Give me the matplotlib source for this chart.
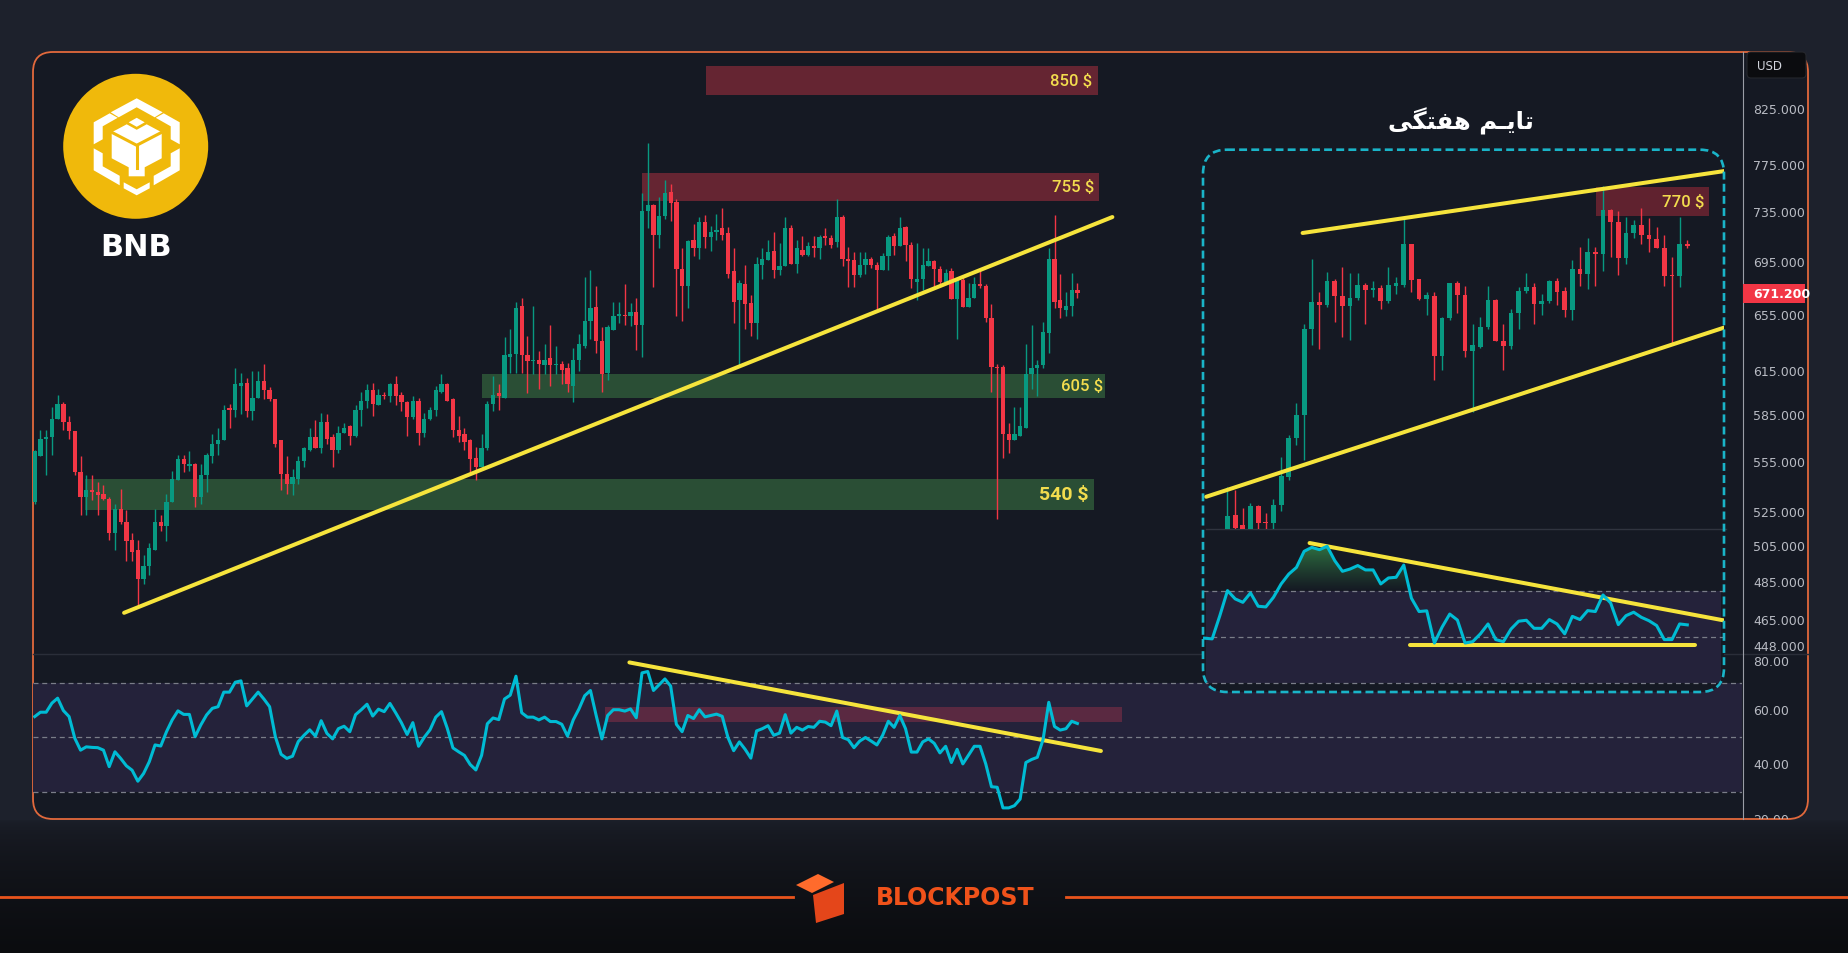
import numpy as np
import matplotlib
matplotlib.use("Agg")
import matplotlib.pyplot as plt
from matplotlib.patches import FancyBboxPatch, Polygon, Circle, Rectangle
from matplotlib.colors import LinearSegmentedColormap, to_rgb
from matplotlib.path import Path

W, H = 1848, 954

# ---------------- daily BNB/USD candles (main chart) ----------------
d_open = [531, 559, 570, 571, 583, 593, 581, 575, 549, 534,
          538, 537, 536, 533, 513, 527, 519, 509, 503, 487,
          494, 503, 519, 517, 531, 544, 557, 553, 554, 534,
          547, 559, 567, 569, 590, 589, 605, 607, 588, 597,
          608, 602, 596, 569, 548, 542, 545, 556, 563, 571,
          564, 581, 571, 563, 574, 578, 572, 589, 595, 602,
          592, 599, 598, 606, 599, 594, 584, 595, 574, 583,
          589, 601, 606, 596, 576, 573, 569, 558, 552, 564,
          593, 600, 597, 625, 627, 662, 626, 622, 623, 619,
          624, 619, 620, 617, 605, 623, 633, 651, 661, 636,
          614, 644, 654, 655, 654, 657, 648, 736, 741, 717,
          732, 752, 744, 690, 677, 713, 706, 727, 715, 719,
          722, 718, 688, 666, 678, 664, 649, 693, 697, 704,
          689, 692, 722, 694, 705, 701, 708, 706, 716, 714,
          711, 731, 698, 697, 685, 693, 698, 693, 689, 700,
          716, 708, 723, 709, 680, 682, 692, 696, 690, 680,
          688, 667, 681, 661, 668, 678, 677, 653, 618, 618,
          573, 569, 572, 577, 613, 617, 619, 642, 698, 666,
          659, 662, 674]
d_high = [563, 576, 576, 591, 599, 594, 585, 575, 559, 547,
          547, 543, 541, 534, 530, 539, 526, 513, 509, 500,
          507, 527, 523, 536, 550, 560, 560, 562, 555, 554,
          561, 573, 577, 592, 593, 617, 614, 610, 615, 615,
          620, 604, 596, 569, 559, 551, 559, 565, 577, 582,
          587, 586, 573, 578, 580, 579, 592, 601, 606, 607,
          603, 601, 607, 612, 601, 595, 598, 597, 587, 591,
          605, 613, 607, 597, 585, 577, 570, 565, 573, 595,
          612, 606, 639, 645, 665, 668, 640, 662, 629, 634,
          648, 633, 622, 621, 631, 641, 684, 689, 677, 646,
          648, 665, 665, 678, 664, 668, 751, 795, 742, 748,
          762, 759, 746, 706, 713, 726, 731, 733, 724, 734,
          739, 723, 706, 681, 693, 670, 699, 706, 713, 719,
          710, 731, 725, 713, 716, 711, 716, 717, 722, 717,
          746, 733, 707, 703, 703, 703, 699, 695, 702, 717,
          718, 731, 724, 711, 710, 706, 706, 697, 692, 690,
          691, 684, 684, 679, 684, 690, 678, 663, 620, 619,
          580, 591, 591, 634, 648, 623, 650, 706, 733, 686,
          672, 687, 679]
d_low = [530, 559, 547, 560, 583, 576, 570, 547, 523, 523,
         532, 523, 532, 509, 503, 518, 497, 497, 472, 484,
         489, 503, 514, 508, 531, 544, 549, 550, 528, 530,
         537, 555, 560, 569, 577, 584, 586, 584, 582, 597,
         596, 595, 565, 538, 536, 535, 542, 552, 562, 564,
         561, 567, 552, 561, 574, 566, 571, 578, 590, 585,
         592, 596, 594, 592, 588, 572, 583, 566, 571, 582,
         585, 600, 595, 571, 568, 563, 548, 544, 552, 563,
         588, 589, 597, 614, 614, 614, 600, 613, 603, 613,
         605, 613, 606, 601, 594, 615, 631, 638, 628, 601,
         609, 644, 649, 648, 647, 630, 625, 722, 676, 706,
         730, 728, 654, 651, 660, 700, 698, 706, 704, 713,
         713, 683, 649, 618, 645, 640, 638, 682, 697, 683,
         685, 692, 694, 687, 700, 700, 699, 698, 709, 706,
         707, 692, 676, 676, 684, 686, 691, 658, 689, 689,
         701, 708, 696, 675, 666, 674, 692, 676, 676, 680,
         667, 638, 661, 661, 668, 675, 650, 601, 521, 558,
         561, 569, 572, 577, 603, 598, 617, 628, 660, 653,
         654, 654, 668]
d_close = [562, 570, 571, 583, 593, 581, 575, 549, 534, 538,
           537, 535, 533, 513, 527, 519, 508, 502, 487, 494,
           504, 519, 517, 531, 545, 557, 554, 554, 534, 547,
           560, 567, 569, 589, 589, 606, 607, 588, 597, 608,
           602, 596, 567, 548, 542, 546, 556, 564, 571, 564,
           581, 570, 563, 574, 577, 572, 589, 595, 602, 593,
           599, 598, 606, 598, 594, 584, 595, 574, 583, 589,
           602, 606, 595, 576, 572, 568, 557, 552, 564, 593,
           599, 598, 626, 627, 660, 626, 622, 623, 620, 623,
           619, 620, 616, 606, 623, 634, 651, 660, 636, 613,
           646, 654, 656, 654, 657, 648, 736, 741, 717, 732,
           751, 743, 690, 677, 712, 706, 727, 715, 719, 721,
           717, 686, 665, 679, 663, 649, 694, 698, 703, 689,
           692, 722, 694, 706, 701, 708, 706, 715, 714, 709,
           731, 698, 696, 685, 693, 698, 693, 689, 700, 715,
           708, 722, 709, 682, 682, 693, 696, 690, 680, 687,
           667, 681, 661, 668, 678, 677, 653, 618, 617, 573,
           569, 573, 578, 613, 617, 619, 643, 698, 665, 660,
           662, 674, 671.2]
d_rsi = [57.6, 59.2, 59.2, 62.5, 64.3, 59.8, 57.6, 49.7, 45.4, 46.6,
         46.4, 46.3, 45.4, 39.4, 44.8, 42.4, 39.7, 38.1, 34.1, 36.9,
         41.2, 47.3, 46.9, 52.1, 56.4, 59.7, 58.4, 58.4, 50.3, 54.6,
         58.2, 60.6, 61.2, 66.5, 66.5, 70.1, 70.6, 61.5, 64.0, 66.5,
         64.0, 61.2, 50.3, 43.9, 42.4, 43.2, 48.5, 50.8, 52.8, 50.5,
         56.1, 51.5, 49.5, 53.2, 54.1, 52.1, 58.3, 60.1, 62.1, 57.8,
         60.3, 59.4, 62.4, 59.0, 55.4, 51.1, 55.4, 46.8, 50.1, 52.8,
         57.4, 59.4, 53.4, 46.2, 44.8, 43.5, 40.2, 38.2, 43.5, 55.0,
         57.1, 56.5, 64.0, 65.4, 72.3, 59.0, 57.4, 57.4, 56.4, 57.4,
         55.8, 55.8, 54.8, 50.5, 56.4, 60.4, 65.2, 67.1, 58.0, 49.5,
         58.0, 60.1, 60.1, 59.6, 60.4, 57.2, 73.5, 74.0, 67.1, 69.2,
         71.3, 68.7, 54.8, 52.1, 58.0, 56.9, 60.1, 57.5, 58.0, 58.5,
         57.7, 50.0, 45.2, 48.4, 45.7, 42.5, 52.4, 53.2, 54.3, 50.8,
         51.6, 58.3, 51.6, 53.7, 52.7, 54.0, 53.7, 55.9, 55.6, 54.3,
         59.6, 50.0, 49.2, 46.3, 48.7, 50.0, 48.7, 47.3, 50.8, 55.9,
         53.7, 58.0, 53.2, 44.7, 44.7, 48.4, 49.5, 47.9, 44.4, 46.8,
         40.9, 45.7, 40.4, 43.6, 46.8, 46.8, 40.4, 32.1, 31.9, 24.4,
         24.4, 25.2, 27.6, 40.9, 42.0, 42.8, 49.2, 62.8, 54.0, 52.7,
         53.2, 55.9, 55.1]

# ---------------- weekly candles (inset) ----------------
w_open = [280, 298, 289, 284, 306, 292, 291, 307, 334, 375,
          401, 518, 562, 557, 598, 572, 555, 568, 591, 583,
          586, 564, 589, 592, 668, 602, 567, 572, 479, 536,
          594, 574, 486, 492, 521, 565, 500, 493, 544, 581,
          587, 559, 564, 598, 580, 548, 620, 610, 652, 648,
          739, 714, 640, 691, 706, 687, 677, 660, 608, 607, 668]
w_high = [324, 321, 304, 309, 307, 300, 313, 354, 378, 416,
          527, 639, 579, 615, 602, 623, 612, 612, 595, 598,
          592, 623, 605, 720, 668, 602, 579, 579, 537, 595,
          599, 589, 527, 537, 589, 567, 527, 551, 587, 612,
          595, 575, 600, 604, 587, 636, 661, 680, 661, 793,
          741, 736, 724, 718, 743, 721, 702, 686, 643, 724, 675]
w_low = [272, 280, 275, 278, 283, 284, 284, 302, 331, 367,
         351, 495, 488, 554, 530, 507, 502, 565, 527, 571,
         550, 561, 575, 588, 579, 566, 541, 445, 459, 533,
         544, 477, 405, 490, 519, 500, 459, 489, 518, 578,
         526, 540, 561, 557, 537, 533, 590, 584, 590, 617,
         643, 609, 630, 680, 668, 652, 659, 590, 498, 587, 660]
w_close = [297, 287, 284, 306, 291, 291, 307, 335, 375, 402,
           519, 562, 557, 598, 572, 555, 569, 591, 582, 586,
           564, 591, 594, 668, 600, 567, 573, 479, 536, 594,
           574, 486, 494, 521, 565, 500, 493, 544, 581, 587,
           559, 564, 598, 579, 548, 620, 610, 652, 648, 739,
           714, 640, 691, 706, 687, 677, 660, 608, 607, 668, 663]
w_rsi_start = -3
w_rsi = [49.6, 49.3, 59.4, 70.3, 66.7, 65.2, 69.3, 63.5, 63.2, 67.4,
         73.2, 77.5, 80.4, 87.4, 89.1, 88.1, 89.6, 83.3, 78.7, 79.7,
         81.2, 79.3, 79.3, 73.2, 75.8, 76.1, 81.4, 67.0, 61.2, 61.5,
         47.5, 54.4, 60.1, 57.5, 47.5, 48.1, 51.5, 55.8, 49.0, 48.1,
         53.6, 57.0, 57.4, 53.9, 53.9, 57.7, 55.8, 51.5, 59.1, 57.7,
         61.6, 61.2, 68.4, 64.9, 55.5, 59.4, 60.9, 58.7, 57.2, 55.1,
         49.0, 49.0, 55.8, 55.4]

# ---------------- drawings ----------------
zone_x0 = [117.1, 106.0, 78.1, 8.8]
zone_x1 = [185.6, 185.7, 186.9, 184.9]
zone_lo = [839, 745, 597, 526]
zone_hi = [867, 768, 613, 545]
zone_is_res = [True, True, False, False]
zone_text = ["850 $", "755 $", "605 $", "540 $"]
zone_text_x = [184.6, 185.0, 186.4, 183.9]
zone_text_y = [852.7, 756.6, 605.0, 535.5]

trend_x = [15.6, 188.1]
trend_y = [468.8, 731.3]
rsi_trend_x = [103.8, 186.1]
rsi_trend_y = [77.3, 45.1]
rsi_zone_x = [99.5, 189.8]
rsi_zone_y = [55.7, 61.1]

w_zone_x = [48.07, 62.8]
w_zone_y = [726.7, 790.6]
w_up_x, w_up_y = [9.8, 65.17], [690.1, 830.7]
w_lo_x, w_lo_y = [-2.78, 65.17], [314.8, 522.2]
w_rsi_tr_x, w_rsi_tr_y = [10.71, 65.0], [91.0, 57.2]
w_rsi_sup_x, w_rsi_sup_y = [23.76, 61.06], [46.65, 46.65]

price_ticks = [825, 775, 735, 695, 655, 615, 585, 555, 525, 505, 485, 465, 448]
rsi_ticks = [80, 60, 40, 20]
last_price = 671.2

# ---------------- colours ----------------
PAGE = "#1d212c"
PANEL = "#151923"
BORDER = "#e2693c"
UP = "#089981"
DOWN = "#f23645"
YELLOW = "#f6e43c"
LABEL = "#f2dc4e"
CYAN = "#00bcd4"
BAND = "#24223a"
ZRED = "#652532"
ZGREEN = "#2a4e35"
RSI_PINK = "#5a2941"
DASH = "#7a7d88"
AXTXT = "#b8bbc3"

fig = plt.figure(figsize=(W / 100, H / 100), dpi=100)
fig.patch.set_facecolor(PAGE)


def px_axes(x0, y0, x1, y1, z):
    a = fig.add_axes([x0 / W, 1 - y1 / H, (x1 - x0) / W, (y1 - y0) / H])
    a.set_zorder(z)
    a.patch.set_visible(False)
    a.set_axis_off()
    return a


def candles(a, o, h, l, c, width, min_frac):
    o, h, l, c = map(np.asarray, (o, h, l, c))
    x = np.arange(len(o))
    col = np.where(c >= o, UP, DOWN)
    a.vlines(x, l, h, colors=col, lw=1, zorder=3)
    body = np.maximum(np.abs(c - o), o * min_frac)
    a.bar(x, body, width, bottom=np.minimum(o, c), color=col, lw=0, zorder=3)


# ---------- page background ----------
bg = px_axes(0, 0, W, H, 0)
yy = np.arange(H)
t = np.sqrt(np.clip((yy - 820) / (H - 820), 0, 1))
top = np.array(to_rgb(PAGE))
bot = np.array(to_rgb("#0b0c0f"))
grad = top[None, :] * (1 - t[:, None]) + bot[None, :] * t[:, None]
bg.imshow(grad[:, None, :], extent=[0, W, H, 0], aspect="auto", zorder=0)
bg.add_patch(FancyBboxPatch((33, 53), 1775, 767, boxstyle="round,pad=0,rounding_size=20",
                            fc=PANEL, ec=BORDER, lw=1.3, zorder=1))
bg.plot([33, 1808], [654.5, 654.5], color="#2a2e39", lw=1, zorder=2)
bg.plot([1742.5, 1742.5], [53, 820], color="#9a9da6", lw=0.8, zorder=2)
bg.set_xlim(0, W)
bg.set_ylim(H, 0)

# ---------- main price pane ----------
ax = px_axes(33, 53, 1742, 654, 2)
ax.set_yscale("log")
for x0, x1, lo, hi, res in zip(zone_x0, zone_x1, zone_lo, zone_hi, zone_is_res):
    ax.add_patch(Rectangle((x0, lo), x1 - x0, hi - lo, fc=ZRED if res else ZGREEN, ec="none", zorder=1))
candles(ax, d_open, d_high, d_low, d_close, 0.75, 0.0013)
ax.plot(trend_x, trend_y, color=YELLOW, lw=2.9, solid_capstyle="round", zorder=4)
for s, x, y in zip(zone_text, zone_text_x, zone_text_y):
    big = s.startswith("540")
    ax.text(x, y, s, ha="right", va="center", color=LABEL, family="Roboto",
            fontsize=14 if big else 12, fontweight="bold" if big else "medium", zorder=5)
ax.set_xlim(-0.3, 298.0)
ax.set_ylim(448.1, 880.3)

# ---------- main RSI pane ----------
ar = px_axes(33, 654, 1742, 820, 2)
ar.axhspan(30, 70, color=BAND, lw=0, zorder=0)
for v in (70, 50, 30):
    ar.axhline(v, color=DASH, lw=0.9, ls=(0, (4, 3)), zorder=1)
ar.add_patch(Rectangle((rsi_zone_x[0], rsi_zone_y[0]), rsi_zone_x[1] - rsi_zone_x[0],
                       rsi_zone_y[1] - rsi_zone_y[0], fc=RSI_PINK, ec="none", zorder=1))
ar.plot(rsi_trend_x, rsi_trend_y, color=YELLOW, lw=2.9, solid_capstyle="round", zorder=3)
ar.plot(np.arange(len(d_rsi)), d_rsi, color=CYAN, lw=2.2, zorder=4)
ar.set_xlim(-0.3, 298.0)
ar.set_ylim(20.36, 80.73)

# ---------- price scale ----------
axp = px_axes(1742, 53, 1808, 654, 2)
axp.set_yscale("log")
axp.set_ylim(448.1, 880.3)
axp.set_xlim(0, 1)
for v in price_ticks:
    axp.text(0.167, v, f"{v:.3f}", transform=axp.get_yaxis_transform(),
             va="bottom" if v == price_ticks[-1] else "center",
             ha="left", color=AXTXT, fontsize=9, clip_on=True)
lp_lo, lp_hi = last_price * np.exp(-9.5 / 890), last_price * np.exp(9.5 / 890)
axp.axhspan(lp_lo, lp_hi, xmin=0.015, xmax=0.955, color=DOWN, lw=0, zorder=3)
axp.text(0.167, last_price, f"{last_price:.3f}", transform=axp.get_yaxis_transform(),
         va="center", ha="left", color="white", fontsize=9, fontweight="bold", zorder=4)

axpr = px_axes(1742, 654, 1808, 820, 2)
axpr.set_ylim(20.36, 80.73)
axpr.set_xlim(0, 1)
for v in rsi_ticks:
    axpr.text(0.167, v, f"{v:.2f}", transform=axpr.get_yaxis_transform(),
              va="top" if v == rsi_ticks[0] else "center",
              ha="left", color=AXTXT, fontsize=9, clip_on=True)

# ---------- weekly inset ----------
ovi = px_axes(0, 0, W, H, 5)
inset_bg = FancyBboxPatch((1203, 150.7), 521, 542.3, boxstyle="round,pad=0,rounding_size=24",
                          fc=PANEL, ec="none", zorder=1)
ovi.add_patch(inset_bg)
ovi.plot([1206, 1726], [530, 530], color="#30343f", lw=1, zorder=2)
ovi.set_xlim(0, W)
ovi.set_ylim(H, 0)

ai = px_axes(1203, 152, 1724, 530, 6)
ai.set_yscale("log")
ai.add_patch(Rectangle((w_zone_x[0], w_zone_y[0]), w_zone_x[1] - w_zone_x[0],
                       w_zone_y[1] - w_zone_y[0], fc="#60222f", ec="none", zorder=1))
candles(ai, w_open, w_high, w_low, w_close, 0.62, 0.003)
ai.plot(w_up_x, w_up_y, color=YELLOW, lw=2.9, solid_capstyle="round", zorder=4)
ai.plot(w_lo_x, w_lo_y, color=YELLOW, lw=2.9, solid_capstyle="round", zorder=4)
ai.text(62.2, 757.5, "770 $", ha="right", va="center", color=LABEL, family="Roboto",
        fontsize=12, fontweight="medium", zorder=5)
ai.set_xlim(-3.197, 64.79)
ai.set_ylim(286.0, 880.8)

air = px_axes(1203, 530, 1724, 693, 6)
band = air.axhspan(30, 70, xmin=0.005, xmax=0.995, color=BAND, lw=0, zorder=0)
band.set_clip_path(inset_bg)
for v in (70, 50, 30):
    ln = air.axhline(v, color=DASH, lw=0.9, ls=(0, (4, 3)), zorder=1)
    ln.set_clip_path(inset_bg)
xr = np.arange(len(w_rsi)) + w_rsi_start
rr = np.array(w_rsi)
fb = air.fill_between(xr, rr, 70, where=rr >= 70, interpolate=True, facecolor="none", edgecolor="none")
ob_cmap = LinearSegmentedColormap.from_list("ob", [(0.17, 0.42, 0.24, 0.0), (0.20, 0.50, 0.28, 0.95)])
im = air.imshow(np.linspace(0, 1, 256).reshape(-1, 1), extent=[-3.2, 64.8, 70, 91],
                origin="lower", aspect="auto", cmap=ob_cmap, zorder=2)
im.set_clip_path(Path.make_compound_path(*fb.get_paths()), transform=air.transData)
air.plot(w_rsi_tr_x, w_rsi_tr_y, color=YELLOW, lw=2.9, solid_capstyle="round", zorder=3)
air.plot(w_rsi_sup_x, w_rsi_sup_y, color=YELLOW, lw=2.9, solid_capstyle="round", zorder=3)
air.plot(xr, rr, color=CYAN, lw=2.2, zorder=4)
air.set_xlim(-3.197, 64.79)
air.set_ylim(26.2, 97.1)

# ---------- overlay: frame, titles, logos ----------
ov = px_axes(0, 0, W, H, 10)
ov.add_patch(FancyBboxPatch((1203, 150.7), 521, 542.3, boxstyle="round,pad=0,rounding_size=24",
                            fc="none", ec="#1ab4c8", lw=1.9, ls=(0, (3, 1.6))))
# "تایم هفتگی" written in shaped (presentation) forms, visual order
title_fa = "\uFEF0\uFB95\uFE98\uFED4\uFEEB \uFEE2\u0640\uFEF3\uFE8E\uFE97"
ov.text(1461, 121, title_fa, ha="center", va="center", color="white", fontsize=17.5,
        fontweight="bold", family="DejaVu Sans")

# USD box
ov.add_patch(FancyBboxPatch((1747, 53), 59, 26, boxstyle="round,pad=0,rounding_size=4",
                            fc="#0b0c0f", ec="#25272d", lw=0.8))
ov.text(1757, 66, "USD", ha="left", va="center", color="#d1d4dc", fontsize=8.5)

# BNB logo
cx, cy = 135.7, 147.3
ov.add_patch(Circle((cx, cy), 72.5, fc="#f0b90b", ec="none"))
logo_parts = [
    [(-25, -34), (1, -48), (27, -34), (19, -29), (1, -39), (-17, -29)],
    [(-7, -24), (1, -28.5), (9, -24), (1, -19.5)],
    [(-42, -24), (-26, -33), (-18, -28.5), (-33, -20), (-33, -7), (-42, -2)],
    [(44, -24), (28, -33), (20, -28.5), (35, -20), (35, -7), (44, -2)],
    [(-24, -14), (-9, -22), (1, -16.5), (11, -22), (26, -14), (26, 12), (9, 21),
     (9, 30), (-7, 30), (-7, 21), (-24, 12)],
    [(-42, 2), (-33, 7), (-33, 20), (-16, 29.5), (-16, 39), (-42, 24)],
    [(44, 2), (35, 7), (35, 20), (18, 29.5), (18, 39), (44, 24)],
    [(-12, 36), (1, 43), (14, 36), (14, 42), (1, 49), (-12, 42)],
]
for part in logo_parts:
    ov.add_patch(Polygon([(cx + px, cy + py) for px, py in part], closed=True, fc="white", ec="none"))
# cube edges inside the centre block
for ex, ey in [([-24, 1, 26], [-14, -1, -14]), ([1, 1], [-1, 22])]:
    ov.plot([cx + e for e in ex], [cy + e for e in ey], color="#f0b90b", lw=2.2)
ov.text(136, 248, "BNB", ha="center", va="center", color="white", fontsize=22, fontweight="bold")

# footer
ov.plot([0, 793], [898.3, 898.3], color="#e9541c", lw=2)
ov.plot([1066, W], [898.3, 898.3], color="#e9541c", lw=2)
ov.add_patch(Polygon([(796, 886), (818, 875), (834, 883), (812, 894)], closed=True, fc="#ff6b2c", ec="none"))
ov.add_patch(Polygon([(813, 896), (844, 884), (844, 915), (816, 924)], closed=True, fc="#e4461a", ec="none"))
ov.text(955, 898.5, "BLOCKPOST", ha="center", va="center", color="#f0521a", fontsize=17,
        fontweight="bold")
ov.set_xlim(0, W)
ov.set_ylim(H, 0)

fig.savefig("out.png", dpi=100, facecolor=fig.get_facecolor())
